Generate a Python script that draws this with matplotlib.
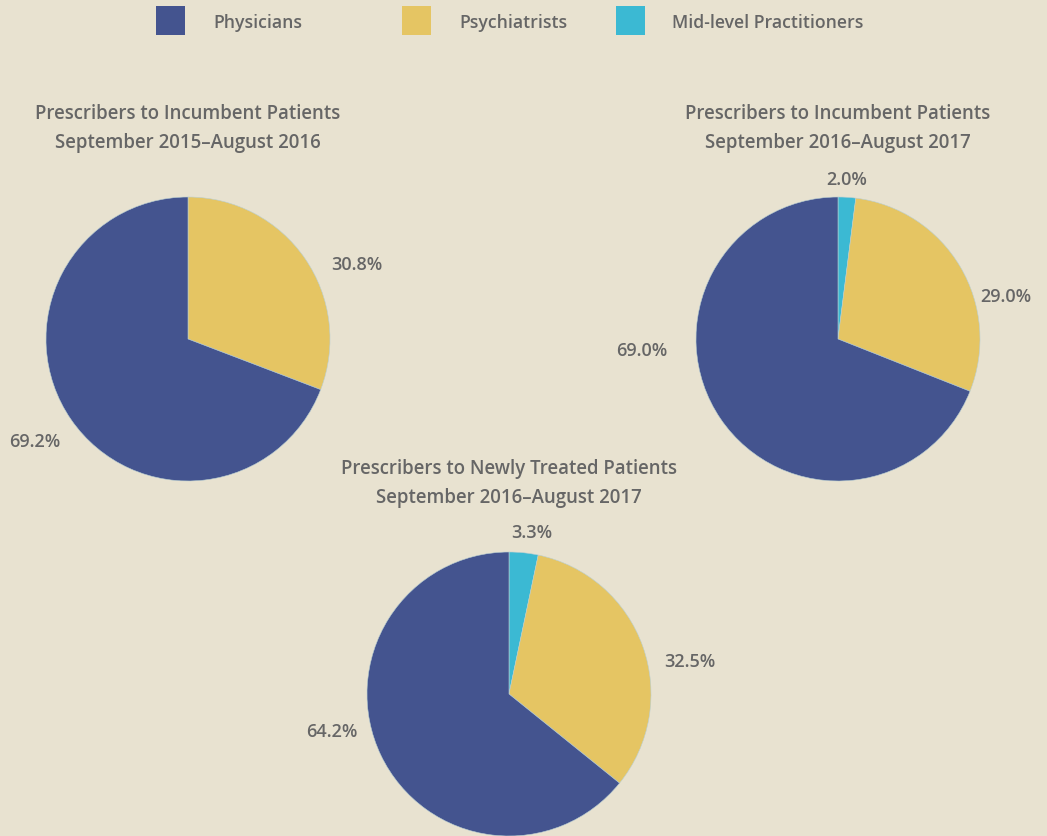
import matplotlib
matplotlib.use("Agg")
import matplotlib.pyplot as plt
from matplotlib.patches import Rectangle

# ---- data ----
categories = ["Physicians", "Psychiatrists", "Mid-level Practitioners"]
colors = ["#44548f", "#e5c563", "#3bb9d3"]

titles = [
    "Prescribers to Incumbent Patients\nSeptember 2015\u2013August 2016",
    "Prescribers to Incumbent Patients\nSeptember 2016\u2013August 2017",
    "Prescribers to Newly Treated Patients\nSeptember 2016\u2013August 2017",
]
# values: Physicians, Psychiatrists, Mid-level
pie1 = [69.2, 30.8, 0.0]
pie2 = [69.0, 29.0, 2.0]
pie3 = [64.2, 32.5, 3.3]
all_pies = [pie1, pie2, pie3]

# ---- layout (pixels) ----
W, H = 1047, 837
R = 142
centers = [(188, 340), (838, 340), (509, 695)]
# label offsets in units of pie radius: Physicians, Psychiatrists, Mid-level
label_offsets = [
    [(-1.08, -0.72), (1.19, 0.53), None],
    [(-1.38, -0.08), (1.18, 0.30), (0.06, 1.13)],
    [(-1.25, -0.26), (1.27, 0.23), (0.16, 1.14)],
]

bg = "#e8e2d0"
txt = "#666666"
font = "Open Sans"
weight = "semibold"

fig = plt.figure(figsize=(W / 100, H / 100), dpi=100)
fig.patch.set_facecolor(bg)

k = 2.0
for vals, (cx, cy), title, offs in zip(all_pies, centers, titles, label_offsets):
    aw = 2 * k * R
    ax = fig.add_axes([(cx - k * R) / W, 1 - (cy + k * R) / H, aw / W, aw / H])
    ax.set_facecolor("none")
    # draw order clockwise from top: mid-level, psychiatrists, physicians
    order = [2, 1, 0]
    v = [vals[i] for i in order]
    c = [colors[i] for i in order]
    ax.pie(v, colors=c, startangle=90, counterclock=False, radius=1,
           wedgeprops=dict(edgecolor="#b9cfd2", linewidth=0.4))
    ax.set_xlim(-k, k)
    ax.set_ylim(-k, k)
    ax.set_aspect("equal")
    ax.axis("off")
    for i, off in enumerate(offs):
        if off is None or vals[i] == 0:
            continue
        ax.text(off[0], off[1], f"{vals[i]:.1f}%", ha="center", va="center",
                fontsize=13, color=txt, family=font, weight=weight)
    l1, l2 = title.split("\n")
    ax.text(0, 1.595, l1, ha="center", va="center",
            fontsize=13.4, color=txt, family=font, weight=weight)
    ax.text(0, 1.385, l2, ha="center", va="center",
            fontsize=13.4, color=txt, family=font, weight=weight)

# legend
leg_sq_x = [156, 402, 616]
leg_tx_x = [213, 459, 672]
for name, col, sx, tx in zip(categories, colors, leg_sq_x, leg_tx_x):
    fig.add_artist(Rectangle((sx / W, 1 - 36 / H), 29 / W, 29 / H,
                             transform=fig.transFigure, facecolor=col, edgecolor="none"))
    fig.text(tx / W, 1 - 22.5 / H, name, ha="left", va="center",
             fontsize=12.7, color=txt, family=font, weight=weight)

fig.savefig("out.png", dpi=100, facecolor=bg)
